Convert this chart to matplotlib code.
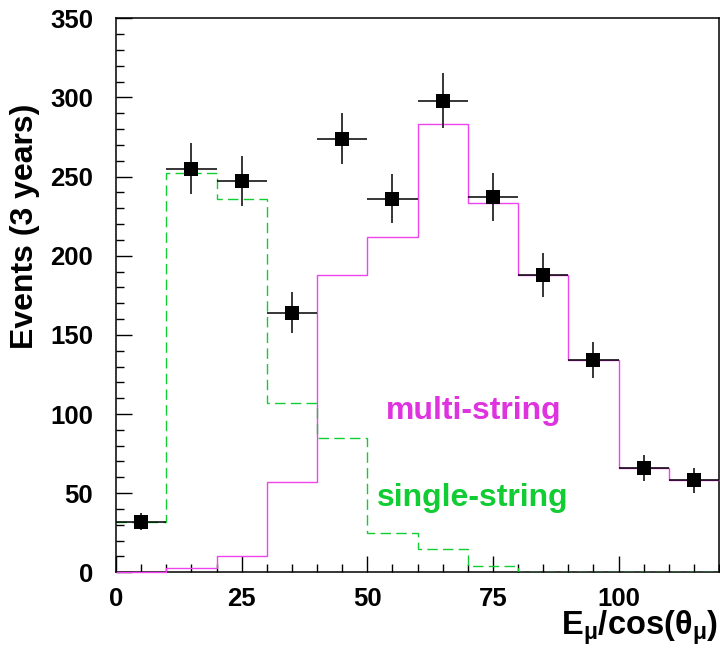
import numpy as np
import matplotlib
matplotlib.use("Agg")
import matplotlib.pyplot as plt
from matplotlib.ticker import MultipleLocator

plt.rcParams['font.family'] = ['Liberation Sans', 'DejaVu Sans']
plt.rcParams['font.weight'] = 'bold'
plt.rcParams['mathtext.fontset'] = 'custom'
plt.rcParams['mathtext.rm'] = 'Liberation Sans'
plt.rcParams['mathtext.it'] = 'Liberation Sans:italic'

# bin edges (E_mu / cos(theta_mu))
bin_edges = [0, 10, 20, 30, 40, 50, 60, 70, 80, 90, 100, 110, 120]
bin_centers = [5, 15, 25, 35, 45, 55, 65, 75, 85, 95, 105, 115]

# data points (3 years)
data_counts = [32, 255, 247, 164, 274, 236, 298, 237, 188, 134, 66, 58]
data_errors = [5.5, 16, 15.7, 12.8, 16.3, 15.5, 17.2, 15.3, 13.8, 11.5, 8.1, 7.7]

# simulated contributions
multi_string = [0, 3, 10.5, 57, 188, 212, 283, 233.5, 188, 134, 66, 58]
single_string = [32, 252, 236, 107, 85, 25, 14.5, 4.2, 0, 0, 0, 0]

magenta = '#ee44ee'
green = '#11cc33'

fig = plt.figure(figsize=(7.2, 6.53), dpi=100)
ax = fig.add_axes([116 / 720, 1 - 572.3 / 653, 603 / 720, 554 / 653])

ax.stairs(multi_string, bin_edges, baseline=None, color=magenta, lw=1.0,
          zorder=3, clip_on=False)
ax.stairs(single_string, bin_edges, baseline=None, color=green, lw=1.0,
          linestyle=(0, (7.5, 3.8)), zorder=3)

ax.errorbar(bin_centers, data_counts, yerr=data_errors, xerr=5, fmt='s',
            color='black', ms=10, mec='black', mew=0, elinewidth=1.1,
            capsize=0, zorder=4)

ax.text(53.8, 102, 'multi-string', color='#e033e0', fontsize=23,
        fontweight='bold', va='center', ha='left')
ax.text(51.9, 47, 'single-string', color='#11cc33', fontsize=23,
        fontweight='bold', va='center', ha='left')

ax.set_xlim(0, 120)
ax.set_ylim(0, 350)
ax.xaxis.set_major_locator(MultipleLocator(25))
ax.xaxis.set_minor_locator(MultipleLocator(5))
ax.yaxis.set_major_locator(MultipleLocator(50))
ax.yaxis.set_minor_locator(MultipleLocator(10))
ax.tick_params(which='both', direction='in', top=False, right=False, width=1.0)
ax.tick_params(which='major', length=11.3, labelsize=18.5)
ax.tick_params(which='minor', length=5.8)
ax.tick_params(axis='y', pad=16.5)
ax.tick_params(axis='x', pad=10.5)
for lab in ax.get_xticklabels() + ax.get_yticklabels():
    lab.set_fontweight('bold')
for sp in ax.spines.values():
    sp.set_linewidth(1.1)

fig.text(718 / 720, 1 - 635 / 653, r'E$_{\mathrm{\mu}}$/cos($\mathrm{\theta}_{\mathrm{\mu}}$)',
         ha='right', va='baseline', fontsize=23.5, fontweight='bold')
fig.text(25 / 720, 1 - 226 / 653, 'Events (3 years)', rotation=90,
         ha='center', va='center', fontsize=23, fontweight='bold')

fig.savefig('out.png', dpi=100)
